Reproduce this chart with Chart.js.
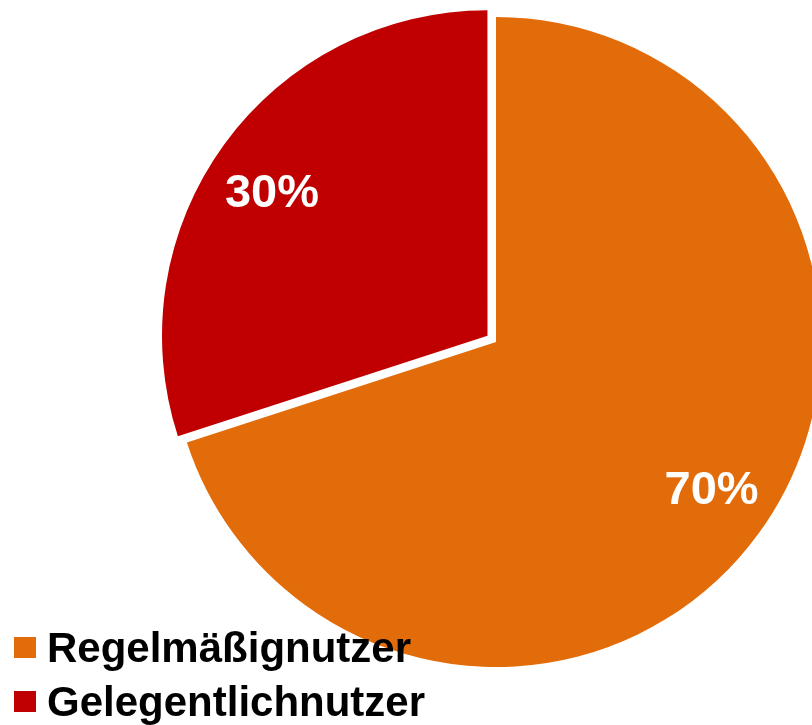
<!DOCTYPE html>
<html>
<head>
<meta charset="utf-8">
<script src="https://cdn.jsdelivr.net/npm/chart.js@4/dist/chart.umd.min.js"></script>
<style>
html,body{margin:0;padding:0;width:812px;height:725px;overflow:hidden;background:#fff;}
#wrap{position:absolute;left:136px;top:-4px;width:720px;height:692px;}
#legend{position:absolute;left:0;top:0;font-family:"Liberation Sans",Arial,sans-serif;font-weight:bold;font-size:42px;color:#000;}
.row{position:absolute;left:0;height:54px;line-height:54px;white-space:nowrap;}
.sq{position:absolute;left:14px;top:16px;width:22px;height:21px;}
.txt{position:absolute;left:47px;top:0;}
</style>
</head>
<body>
<div id="wrap"><canvas id="c"></canvas></div>
<div id="legend"></div>
<script>
const categories = ["Regelmäßignutzer", "Gelegentlichnutzer"];
const shares = [70, 30];
const valueLabels = ["70%", "30%"];
const colors = ["#E36C0A", "#C00000"];
const sliceOffsets = [0, 42];

const labelPlugin = {
  id: 'sliceLabels',
  afterDatasetsDraw(chart) {
    const ctx = chart.ctx;
    const meta = chart.getDatasetMeta(0);
    ctx.save();
    ctx.fillStyle = '#fff';
    ctx.font = 'bold 47px "Liberation Sans", Arial, sans-serif';
    ctx.textAlign = 'center';
    ctx.textBaseline = 'alphabetic';
    meta.data.forEach((arc, i) => {
      const p = arc.getProps(['x','y','startAngle','endAngle','outerRadius'], true);
      const mid = (p.startAngle + p.endAngle) / 2;
      const off = (arc.options.offset || 0) / 4;
      const cx = p.x + Math.cos(mid) * off;
      const cy = p.y + Math.sin(mid) * off;
      const a = mid - 0.035;
      const r = p.outerRadius * 0.8;
      const x = cx + Math.cos(a) * r;
      const y = cy + Math.sin(a) * r;
      ctx.fillText(valueLabels[i], x, y + 17);
    });
    ctx.restore();
  }
};

new Chart(document.getElementById('c'), {
  type: 'pie',
  data: {
    labels: categories,
    datasets: [{
      data: shares,
      backgroundColor: colors,
      borderWidth: 0,
      offset: sliceOffsets,
      hoverOffset: 0
    }]
  },
  options: {
    responsive: true,
    maintainAspectRatio: false,
    animation: false,
    events: [],
    layout: { padding: 0 },
    plugins: {
      legend: { display: false },
      tooltip: { enabled: false }
    }
  },
  plugins: [labelPlugin]
});

const legend = document.getElementById('legend');
const rowTops = [621, 675];
categories.forEach((name, i) => {
  const row = document.createElement('div');
  row.className = 'row';
  row.style.top = rowTops[i] + 'px';
  const sq = document.createElement('span');
  sq.className = 'sq';
  sq.style.background = colors[i];
  const t = document.createElement('span');
  t.className = 'txt';
  t.textContent = name;
  row.appendChild(sq);
  row.appendChild(t);
  legend.appendChild(row);
});
</script>
</body>
</html>
